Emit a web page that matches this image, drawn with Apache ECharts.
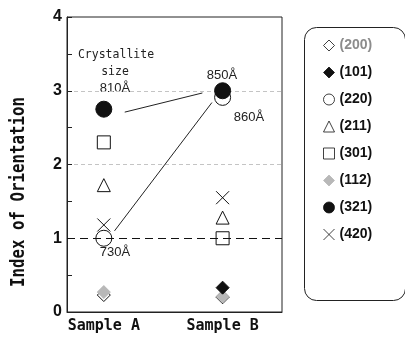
<!DOCTYPE html>
<html><head><meta charset="utf-8">
<script src="https://cdn.jsdelivr.net/npm/echarts@6/dist/echarts.min.js"></script>
<style>html,body{margin:0;padding:0;background:#fff}#c{width:405px;height:338px}</style>
</head><body><div id="c"></div>
<script>
var categories = ['Sample A', 'Sample B'];
var catPos = [1, 2];
var orientations = ['(200)', '(101)', '(220)', '(211)', '(301)', '(112)', '(321)', '(420)'];
var v200 = [0.23, 0.2];
var v101 = [null, 0.33];
var v220 = [1.0, 2.91];
var v211 = [1.72, 1.28];
var v301 = [2.3, 1.0];
var v112 = [0.27, 0.21];
var v321 = [2.75, 3.0];
var v420 = [1.18, 1.55];
var yTicks = [0, 1, 2, 3, 4];
var sizeLine1 = [[1.176, 2.71], [1.83, 2.97]];
var sizeLine2 = [[1.09, 1.10], [1.91, 2.84]];

function pts(v){ return v.map(function(y,i){ return y==null ? [catPos[i], '-'] : [catPos[i], y]; }); }

var crossPath = 'path://M0,0L10,10M0,10L10,0';
var styles = {
  '(200)': {symbol:'diamond', size:13, color:'#fff', border:'#111', z:2, data:v200},
  '(101)': {symbol:'diamond', size:13, color:'#111', border:'#111', z:5, data:v101},
  '(220)': {symbol:'circle', size:16, color:'#fff', border:'#111', z:4, data:v220},
  '(211)': {symbol:'triangle', size:13, color:'#fff', border:'#111', z:3, data:v211},
  '(301)': {symbol:'rect', size:13, color:'#fff', border:'#111', z:3, data:v301},
  '(112)': {symbol:'diamond', size:13, color:'#b8b8b8', border:'#b8b8b8', z:3, data:v112},
  '(321)': {symbol:'circle', size:16, color:'#111', border:'#111', z:6, data:v321},
  '(420)': {symbol:crossPath, size:13, color:'none', border:'#111', z:2, data:v420}
};

var series = orientations.map(function(n){
  var s = styles[n];
  return {
    name: n, type: 'scatter', symbol: s.symbol, symbolSize: s.size, z: s.z,
    itemStyle: {color: s.color, borderColor: s.border, borderWidth: 1, opacity: 1},
    emphasis: {disabled: true},
    data: pts(s.data)
  };
});
series.push({
  type: 'line', silent: true, symbol: 'none', z: 1,
  lineStyle: {color: '#222', width: 1}, data: sizeLine1
});
series.push({
  type: 'line', silent: true, symbol: 'none', z: 1,
  lineStyle: {color: '#222', width: 1}, data: sizeLine2,
  markLine: {
    silent: true, symbol: 'none', label: {show: false},
    lineStyle: {color: '#111', type: [8, 5], width: 1},
    data: [{yAxis: 1}]
  }
});

var chart = echarts.init(document.getElementById('c'), null, {renderer: 'canvas'});
chart.setOption({
  animation: false,
  backgroundColor: '#fff',
  grid: {left: 67, right: 123, top: 17, bottom: 26, show: true, borderColor: '#222', borderWidth: 1, backgroundColor: 'transparent'},
  xAxis: {
    type: 'value', min: 0.69, max: 2.5,
    axisLine: {show: true, onZero: false, lineStyle: {color: '#222', width: 1}},
    axisTick: {show: false},
    splitLine: {show: false},
    axisLabel: {
      customValues: catPos, margin: 7,
      formatter: function(v){ var i = catPos.indexOf(v); return i >= 0 ? categories[i] : ''; },
      color: '#111', fontFamily: 'DejaVu Sans Mono', fontWeight: 'bold', fontSize: 15
    }
  },
  yAxis: {
    type: 'value', min: 0, max: 4, interval: 0.5,
    axisLine: {show: true, lineStyle: {color: '#222', width: 1}},
    axisTick: {show: true, inside: true, length: 5, lineStyle: {color: '#222'}},
    axisLabel: {
      margin: 5,
      formatter: function(v){ return yTicks.indexOf(v) >= 0 ? String(v) : ''; },
      color: '#111', fontFamily: 'Liberation Sans', fontWeight: 'bold', fontSize: 16
    },
    splitLine: {show: true, lineStyle: {
      type: [4, 3], width: 1,
      color: ['rgba(0,0,0,0)','rgba(0,0,0,0)','rgba(0,0,0,0)','rgba(0,0,0,0)','#c4c4c4','rgba(0,0,0,0)','#c4c4c4','rgba(0,0,0,0)','rgba(0,0,0,0)']
    }}
  },
  legend: {
    orient: 'vertical', left: 321, top: 37, padding: 0,
    itemWidth: 11, itemHeight: 11, itemGap: 10, itemTextGap: 18,
    selectedMode: false,
    itemStyle: {borderWidth: 0.8},
    textStyle: {color: '#111', fontFamily: 'Liberation Sans', fontWeight: 'bold', fontSize: 14, lineHeight: 17},
    data: orientations.map(function(n, i){
      return i === 0 ? {name: n, textStyle: {color: '#8c8c8c'}} : {name: n};
    })
  },
  graphic: [
    {type: 'rect', left: 302, top: 25, shape: {width: 101, height: 273, r: 12}, style: {fill: 'none', stroke: '#222', lineWidth: 1}},
    {type: 'text', x: 19, y: 192, rotation: Math.PI / 2, scaleX: 0.79, style: {text: 'Index of Orientation', fill: '#111', font: 'bold 20px "DejaVu Sans Mono"', align: 'center', verticalAlign: 'middle'}},
    {type: 'text', x: 116, y: 55, style: {text: 'Crystallite', fill: '#222', font: '11.5px "DejaVu Sans Mono"', align: 'center', verticalAlign: 'middle'}},
    {type: 'text', x: 115, y: 72, style: {text: 'size', fill: '#222', font: '11.5px "DejaVu Sans Mono"', align: 'center', verticalAlign: 'middle'}},
    {type: 'text', x: 115, y: 88, style: {text: '810Å', fill: '#222', font: '13px "Liberation Sans"', align: 'center', verticalAlign: 'middle'}},
    {type: 'text', x: 222, y: 75, style: {text: '850Å', fill: '#222', font: '13px "Liberation Sans"', align: 'center', verticalAlign: 'middle'}},
    {type: 'text', x: 249, y: 117, style: {text: '860Å', fill: '#222', font: '13px "Liberation Sans"', align: 'center', verticalAlign: 'middle'}},
    {type: 'text', x: 115, y: 252, style: {text: '730Å', fill: '#222', font: '13px "Liberation Sans"', align: 'center', verticalAlign: 'middle'}}
  ],
  series: series
});
</script></body></html>
